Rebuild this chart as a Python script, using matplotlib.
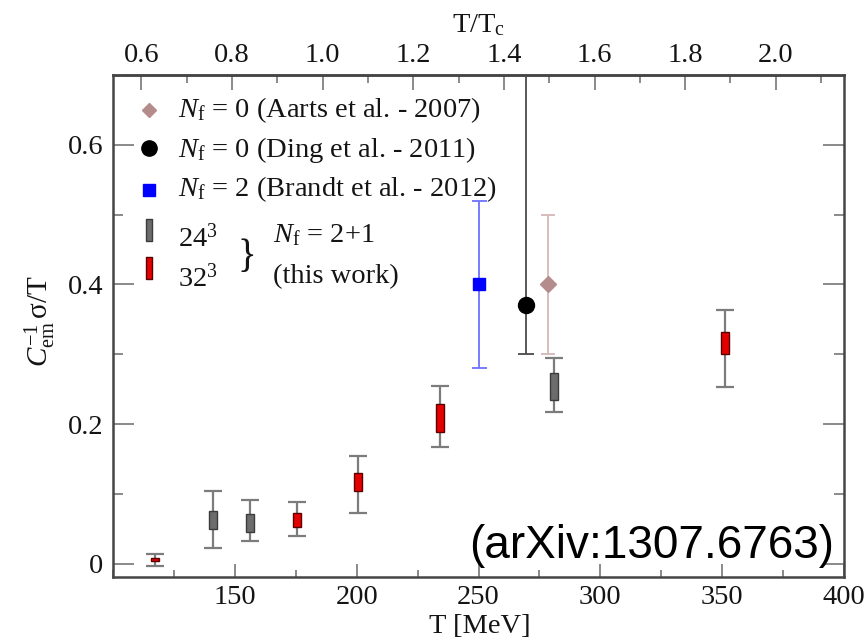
import matplotlib
matplotlib.use("Agg")
import matplotlib.pyplot as plt
from matplotlib.lines import Line2D
from matplotlib.ticker import MultipleLocator

plt.rcParams['font.family'] = ['Liberation Serif', 'DejaVu Serif']
plt.rcParams['mathtext.fontset'] = 'custom'
plt.rcParams['mathtext.rm'] = 'Liberation Serif'
plt.rcParams['mathtext.it'] = 'Liberation Serif:italic'
plt.rcParams['mathtext.bf'] = 'Liberation Serif:bold'

# critical temperature used for the upper axis [MeV]
T_C = 186.0

# N_f = 2+1, 24^3 lattice: temperature, systematic band, statistical error bar
t24 = [141.1, 156.4, 281.0]
band24_lo = [0.050, 0.046, 0.234]
band24_hi = [0.075, 0.071, 0.273]
err24_lo = [0.022, 0.033, 0.217]
err24_hi = [0.104, 0.092, 0.295]

# N_f = 2+1, 32^3 lattice
t32 = [117.2, 175.6, 200.5, 234.3, 351.0]
band32_lo = [0.004, 0.053, 0.104, 0.188, 0.300]
band32_hi = [0.008, 0.072, 0.130, 0.229, 0.332]
err32_lo = [-0.003, 0.040, 0.073, 0.167, 0.253]
err32_hi = [0.014, 0.089, 0.155, 0.254, 0.364]

# quenched and N_f = 2 literature values
aarts_t, aarts_v, aarts_lo, aarts_hi = [278.7], [0.40], [0.30], [0.50]
ding_t, ding_v, ding_lo, ding_hi = [269.4], [0.37], [0.30], [1.00]
brandt_t, brandt_v, brandt_lo, brandt_hi = [250.0], [0.40], [0.28], [0.52]

x_ticks = [150, 200, 250, 300, 350, 400]
y_ticks = [0, 0.2, 0.4, 0.6]
y_tick_labels = ["0", "0.2", "0.4", "0.6"]
top_ticks = [0.6, 0.8, 1.0, 1.2, 1.4, 1.6, 1.8, 2.0]

GRAY = "#6c6c6c"
RED = "#e40000"
ROSY = "#b48c8c"
ROSY_ERR = "#d6b8b8"
BLUE = "#0000ff"
BLUE_ERR = "#7070ff"
TXT = "#141414"

fig = plt.figure(figsize=(8.68, 6.40), dpi=100)
ax = fig.add_axes([0.1302, 0.0984, 0.8422, 0.7844])


def yerr(v, lo, hi):
    return [[a - b for a, b in zip(v, lo)], [c - a for a, c in zip(v, hi)]]


# literature points
ax.errorbar(aarts_t, aarts_v, yerr=yerr(aarts_v, aarts_lo, aarts_hi), fmt='D',
            color=ROSY, ms=8.5, ecolor=ROSY_ERR, elinewidth=1.3, capsize=4.8,
            capthick=1.3, zorder=3)
ax.errorbar(ding_t, ding_v, yerr=yerr(ding_v, ding_lo, ding_hi), fmt='o',
            color='black', ms=11.5, ecolor='#4a4a4a', elinewidth=1.3, capsize=5.6,
            capthick=1.3, zorder=4)
ax.errorbar(brandt_t, brandt_v, yerr=yerr(brandt_v, brandt_lo, brandt_hi), fmt='s',
            color=BLUE, ms=9, ecolor=BLUE_ERR, elinewidth=1.3, capsize=5.4,
            capthick=1.3, zorder=4)


def this_work(t, blo, bhi, elo, ehi, face, edge):
    mid = [(a + b) / 2 for a, b in zip(blo, bhi)]
    ax.errorbar(t, mid, yerr=yerr(mid, elo, ehi), fmt='none', ecolor='#7c7c7c',
                elinewidth=1.6, capsize=6.3, capthick=1.6, zorder=3)
    ax.bar(t, [b - a for a, b in zip(blo, bhi)], bottom=blo, width=3.3,
           color=face, edgecolor=edge, linewidth=1.0, zorder=5)


this_work(t24, band24_lo, band24_hi, err24_lo, err24_hi, GRAY, "#3c3c3c")
this_work(t32, band32_lo, band32_hi, err32_lo, err32_hi, RED, "#5a0000")

ax.set_xlim(100, 400)
ax.set_ylim(-0.019, 0.70)
ax.set_xticks(x_ticks)
ax.xaxis.set_minor_locator(MultipleLocator(25))
ax.set_yticks(y_ticks)
ax.set_yticklabels(y_tick_labels)
ax.yaxis.set_minor_locator(MultipleLocator(0.1))

for s in ax.spines.values():
    s.set_color('#454545')
    s.set_linewidth(1.8)

ax.tick_params(axis='x', which='major', direction='in', length=9.5, width=1.4,
               color='#8a8a8a', labelsize=20.5, pad=6, labelcolor=TXT, top=False)
ax.tick_params(axis='x', which='minor', direction='in', length=5, width=1.4,
               color='#8a8a8a', top=False)
ax.tick_params(axis='y', which='major', direction='in', length=15, width=1.4,
               color='#8a8a8a', labelsize=20.5, pad=7, labelcolor=TXT, right=True)
ax.tick_params(axis='y', which='minor', direction='in', length=7.5, width=1.4,
               color='#8a8a8a', right=True)

sec = ax.secondary_xaxis('top', functions=(lambda t: t / T_C, lambda r: r * T_C))
sec.set_xticks(top_ticks)
sec.set_xticklabels([f"{v:.1f}" for v in top_ticks])
sec.xaxis.set_minor_locator(MultipleLocator(0.1))
sec.tick_params(axis='x', which='major', direction='in', length=11, width=1.4,
                color='#8a8a8a', labelsize=20.5, pad=5, labelcolor=TXT)
sec.tick_params(axis='x', which='minor', direction='in', length=5.5, width=1.4,
                color='#8a8a8a')
sec.spines['top'].set_color('#454545')
sec.spines['top'].set_linewidth(1.8)
sec.set_xlabel(r"T/T$_\mathrm{c}$", fontsize=20.5, color=TXT, labelpad=8)

ax.set_xlabel("T [MeV]", fontsize=20.5, color=TXT)
ax.xaxis.set_label_coords(0.502, -0.073)
ax.xaxis.label.set_va('top')
ax.set_ylabel(r"$C_\mathrm{em}^{-1}\,\mathrm{σ/T}$", fontsize=21, color=TXT,
              va='center')
ax.yaxis.set_label_coords(-0.1, 0.51)

# legend, drawn row by row in axes coordinates
tr = ax.transAxes
mx, tx = 0.049, 0.089
rows = [
    (0.930, 0.916, dict(marker='D', color=ROSY, ms=7),
     r"$N_\mathrm{f}$ = 0 (Aarts et al. - 2007)"),
    (0.855, 0.837, dict(marker='o', color='black', ms=11),
     r"$N_\mathrm{f}$ = 0 (Ding et al. - 2011)"),
    (0.771, 0.758, dict(marker='s', color=BLUE, ms=8.5),
     r"$N_\mathrm{f}$ = 2 (Brandt et al. - 2012)"),
]
rect = [(-0.3, -1), (0.3, -1), (0.3, 1), (-0.3, 1), (-0.3, -1)]
rows += [
    (0.691, 0.658, dict(marker=rect, color=GRAY, mec='#3c3c3c', ms=16), r"24$^3$"),
    (0.616, 0.578, dict(marker=rect, color=RED, mec='#5a0000', ms=16), r"32$^3$"),
]
for my, ty, style, label in rows:
    ax.add_line(Line2D([mx], [my], transform=tr, ls='none', clip_on=False, **style))
    ax.text(tx, ty, label, transform=tr, fontsize=20.5, color=TXT, va='baseline',
            ha='left')
ax.text(0.183, 0.636, "}", transform=tr, fontsize=28, color=TXT, va='center',
        ha='center')
ax.text(0.219, 0.668, r"$N_\mathrm{f}$ = 2+1", transform=tr, fontsize=20.5, color=TXT,
        va='baseline')
ax.text(0.219, 0.585, "(this work)", transform=tr, fontsize=20.5, color=TXT,
        va='baseline')

ax.text(0.487, 0.038, "(arXiv:1307.6763)", transform=tr, fontsize=33,
        family='Liberation Sans', color='black', va='baseline', ha='left')

fig.savefig("out.png", dpi=100)
